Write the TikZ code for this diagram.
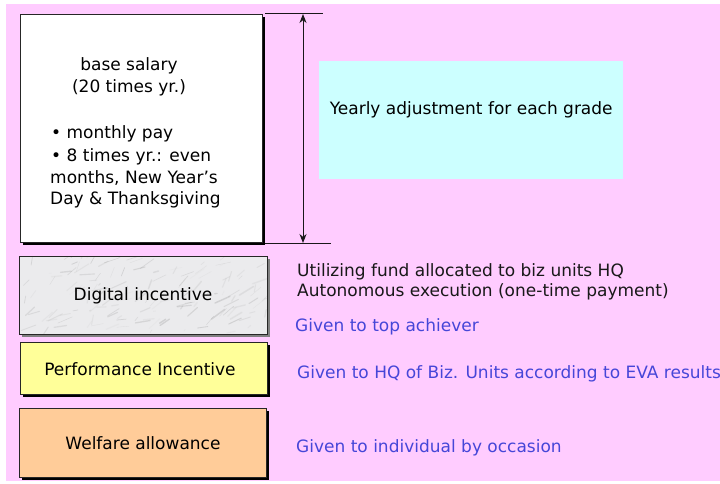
\documentclass[tikz,border=0pt]{standalone}
\usepackage{fontspec}
\setmainfont{DejaVu Sans}
\usetikzlibrary{arrows.meta,calc}
\definecolor{bgpink}{HTML}{FFCCFF}
\definecolor{cyanbox}{HTML}{CCFFFF}
\definecolor{yelbox}{HTML}{FFFF99}
\definecolor{orabox}{HTML}{FFCC99}
\definecolor{bluetxt}{HTML}{4646D8}
\definecolor{marble}{HTML}{EBEBED}
\begin{document}
\begin{tikzpicture}[x=1pt,y=-1pt,
  every node/.style={font=\fontsize{17}{20}\selectfont, inner sep=0pt},
  boxstyle/.style={draw=black!85, line width=0.8pt},
  shadowblack/.style={fill=black},
  shadowgrey/.style={fill=black!50},
  bluenote/.style={anchor=west, text=bluetxt},
  blacknote/.style={anchor=west, text=black!90, align=left},
  dimline/.style={line width=1pt, black!90}]
\useasboundingbox (0,0) rectangle (720,484);
\fill[white] (0,0) rectangle (720,484);
\fill[bgpink] (6,4) rectangle (720,481);

% base salary box
\fill[shadowblack] (23,17) rectangle (265,245);
\node[boxstyle, fill=white, minimum width=242pt, minimum height=228pt, anchor=north west] (base) at (20,14) {};
\node (bs1) at (129,66) {base salary};
\node (bs2) at (129,88) {(20 times yr.)};
\node[anchor=west] (bs3) at (51,134) {• monthly pay};
\node[anchor=west] (bs4) at (51,157) {• 8 times yr.: even};
\node[anchor=west] (bs5) at (50,178) {months, New Year’s};
\node[anchor=west] (bs6) at (50,200) {Day \& Thanksgiving};

% dimension lines
\coordinate (dt1) at (265,14);
\coordinate (dt2) at (323,14);
\coordinate (db1) at (265,243);
\coordinate (db2) at (331,243);
\coordinate (at) at (303,14);
\coordinate (ab) at (303,243);
\draw[dimline] (dt1) -- (dt2);
\draw[dimline] (db1) -- (db2);
\draw[dimline, {Stealth[length=9pt,width=7pt]}-{Stealth[length=9pt,width=7pt]}] (at) -- (ab);

% yearly box
\node[fill=cyanbox, minimum width=304pt, minimum height=118pt, anchor=north west] (yearly) at (319,61) {};
\node (ytxt) at ([yshift=10pt]yearly.center) {Yearly adjustment for each grade};

% digital incentive
\fill[shadowgrey] (22,259) rectangle (270,337);
\node[fill=marble, minimum width=248pt, minimum height=78pt, anchor=north west] (dig) at (19,256) {};
\begin{scope}
\clip (19,256) rectangle (267,334);
\pgfmathsetseed{11}
\foreach \i in {1,...,160} {
  \pgfmathsetmacro{\xa}{143+130*rand}
  \pgfmathsetmacro{\ya}{295+42*rand}
  \pgfmathsetmacro{\dx}{8+7*rand}
  \pgfmathsetmacro{\dy}{-5+5*rand}
  \pgfmathsetmacro{\gr}{35+20*rand}
  \pgfmathsetmacro{\lw}{0.9+0.6*rand}
  \draw[black!\gr, opacity=0.22, line width=\lw pt, line cap=round]
    (\xa,\ya) .. controls (\xa+0.5*\dx,\ya+0.6*\dy) .. (\xa+\dx,\ya+\dy);
}
\end{scope}
\draw[black!85, line width=0.8pt] (19,256) rectangle (267,334);
\node (digtxt) at (143,296) {Digital incentive};

% performance incentive
\fill[shadowblack] (23,345) rectangle (270,397);
\node[boxstyle, fill=yelbox, minimum width=247pt, minimum height=52pt, anchor=north west] (perf) at (20,342) {};
\node (perftxt) at (140,369) {Performance Incentive};

% welfare allowance
\fill[shadowblack] (22,411) rectangle (269,480);
\node[boxstyle, fill=orabox, minimum width=247pt, minimum height=69pt, anchor=north west] (welf) at (19,408) {};
\node (welftxt) at (143,443) {Welfare allowance};

% right notes
\node[blacknote] (n1) at (297,272) {Utilizing fund allocated to biz units HQ};
\node[blacknote] (n2) at (297,292) {Autonomous execution (one-time payment)};
\node[bluenote] (n3) at (295,327) {Given to top achiever};
\node[bluenote] (n4) at (297,374) {Given to HQ of Biz. Units according to EVA results};
\node[bluenote] (n5) at (296,448) {Given to individual by occasion};
\end{tikzpicture}
\end{document}
